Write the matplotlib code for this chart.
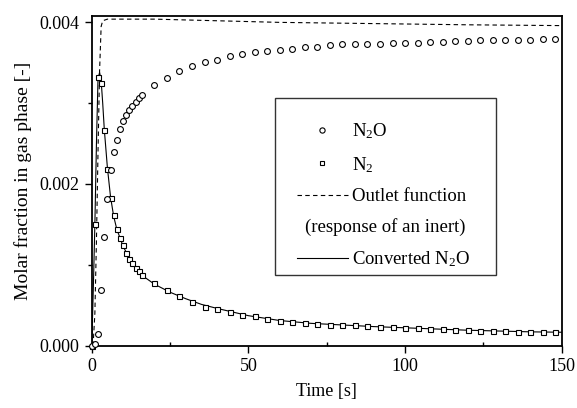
import matplotlib
matplotlib.use("Agg")
import matplotlib.pyplot as plt
from matplotlib.lines import Line2D
from matplotlib.legend_handler import HandlerLine2D
import numpy as np

# N2O measured (circles)
t_n2o = [0, 1, 2, 3, 4, 5, 6, 7, 8, 9, 10, 11, 12, 13, 14, 15, 16,
         20, 24, 28, 32, 36, 40, 44, 48, 52, 56, 60, 64, 68, 72, 76, 80,
         84, 88, 92, 96, 100, 104, 108, 112, 116, 120, 124, 128, 132, 136,
         140, 144, 148]
y_n2o = [0.0, 0.02, 0.145, 0.69, 1.34, 1.82, 2.17, 2.40, 2.55, 2.68, 2.78,
         2.85, 2.91, 2.96, 3.01, 3.06, 3.10,
         3.22, 3.31, 3.40, 3.46, 3.51, 3.54, 3.58, 3.61, 3.63, 3.64, 3.66,
         3.67, 3.69, 3.70, 3.72, 3.73, 3.73, 3.73, 3.735, 3.74, 3.75, 3.75,
         3.755, 3.76, 3.77, 3.77, 3.78, 3.78, 3.78, 3.785, 3.785, 3.79, 3.79]

# N2 measured (squares)
t_n2 = [0, 1, 2, 3, 4, 5, 6, 7, 8, 9, 10, 11, 12, 13, 14, 15, 16,
        20, 24, 28, 32, 36, 40, 44, 48, 52, 56, 60, 64, 68, 72, 76, 80,
        84, 88, 92, 96, 100, 104, 108, 112, 116, 120, 124, 128, 132, 136,
        140, 144, 148]
y_n2 = [0.0, 1.50, 3.32, 3.25, 2.67, 2.18, 1.83, 1.61, 1.44, 1.33, 1.24,
        1.14, 1.07, 1.02, 0.96, 0.92, 0.87,
        0.77, 0.69, 0.61, 0.54, 0.48, 0.45, 0.41, 0.38, 0.36, 0.33, 0.30,
        0.29, 0.28, 0.27, 0.26, 0.255, 0.25, 0.24, 0.235, 0.225, 0.22,
        0.215, 0.21, 0.20, 0.195, 0.19, 0.185, 0.18, 0.18, 0.17, 0.165,
        0.165, 0.17]

# outlet function (response of an inert), dashed
t_out = [0, 0.5, 1, 1.5, 2, 2.5, 3, 3.5, 5, 10, 20, 40, 60, 80, 100, 120, 150]
y_out = [0.0, 0.05, 0.4, 1.3, 2.4, 3.4, 3.95, 4.02, 4.04, 4.04, 4.04,
         4.02, 4.0, 3.99, 3.98, 3.97, 3.96]

# converted N2O, solid
t_conv = [0, 0.5, 1, 1.5, 2, 2.5, 3, 3.5, 4, 5, 6, 7, 8, 10, 12, 14, 16,
          20, 25, 30, 35, 40, 50, 60, 70, 80, 90, 100, 110, 120, 130, 140, 150]
y_conv = [0.0, 0.7, 1.5, 2.5, 3.3, 3.38, 3.28, 3.0, 2.68, 2.2, 1.84, 1.60,
          1.44, 1.23, 1.08, 0.96, 0.87, 0.76, 0.66, 0.58, 0.51, 0.46, 0.37,
          0.31, 0.275, 0.255, 0.235, 0.22, 0.205, 0.19, 0.18, 0.17, 0.165]

scale = 1e-3

plt.rcParams['font.family'] = ['Liberation Serif', 'DejaVu Serif']
plt.rcParams['mathtext.fontset'] = 'custom'
plt.rcParams['mathtext.rm'] = 'Liberation Serif'
plt.rcParams['mathtext.it'] = 'Liberation Serif:italic'
plt.rcParams['mathtext.default'] = 'regular'

fig = plt.figure(figsize=(5.77, 4.08), dpi=100)
ax = fig.add_axes([0.159, 0.153, 0.8145, 0.808])

ax.plot(t_conv, np.array(y_conv) * scale, '-', color='black', lw=0.8,
        label='Converted N$_2$O\u2003\u2009', zorder=2)
ax.plot(t_out, np.array(y_out) * scale, color='black', lw=0.8,
        dashes=(4, 3), label='Outlet function', zorder=2)
ax.plot(t_n2, np.array(y_n2) * scale, 's', ms=3.6, mfc='white', mec='black',
        mew=0.8, label='N$_2$', clip_on=False, zorder=3)
ax.plot(t_n2o, np.array(y_n2o) * scale, 'o', ms=4.2, mfc='white', mec='black',
        mew=0.8, label='N$_2$O', clip_on=False, zorder=4)
# empty entry that keeps a row free for the second line of the outlet label
ax.plot([], [], ' ', label=' ')

ax.set_xlim(0, 150)
ax.set_ylim(0, 0.00408)
ax.set_xticks([0, 50, 100, 150])
ax.set_xticks([25, 75, 125], minor=True)
ax.set_yticks([0, 0.002, 0.004])
ax.set_yticklabels(['0.000', '0.002', '0.004'])
ax.set_yticks([0.001, 0.003], minor=True)
ax.tick_params(axis='both', which='major', labelsize=13, length=5,
               width=1.0, direction='out', pad=4)
ax.tick_params(axis='x', which='minor', length=3, width=1.0, direction='in')
ax.tick_params(axis='y', which='minor', length=3, width=1.0, direction='out')
for s in ax.spines.values():
    s.set_linewidth(1.3)

ax.set_xlabel('Time [s]', fontsize=13, labelpad=6)
ax.set_ylabel('Molar fraction in gas phase [-]', fontsize=14, labelpad=5)

h, l = ax.get_legend_handles_labels()
order = [3, 2, 1, 4, 0]
leg = ax.legend([h[i] for i in order], [l[i] for i in order],
                loc='upper left', bbox_to_anchor=(0.39, 0.751),
                borderaxespad=0, fontsize=13.5, frameon=True, fancybox=False,
                edgecolor='black', handlelength=3.56, handletextpad=0.2,
                borderpad=0.33, labelspacing=0.72, markerscale=0.9,
                title=' ', title_fontsize=2,
                handler_map={Line2D: HandlerLine2D(xpad=0.84)})
leg.get_frame().set_linewidth(1.0)

# second line of the outlet-function label, right aligned under it
txts = leg.get_texts()
ax.annotate('(response of an inert)', xy=(1, 0.5),
            xycoords=(txts[2], txts[3]), ha='right', va='center',
            fontsize=13.5, zorder=10)

fig.savefig('out.png', dpi=100)
